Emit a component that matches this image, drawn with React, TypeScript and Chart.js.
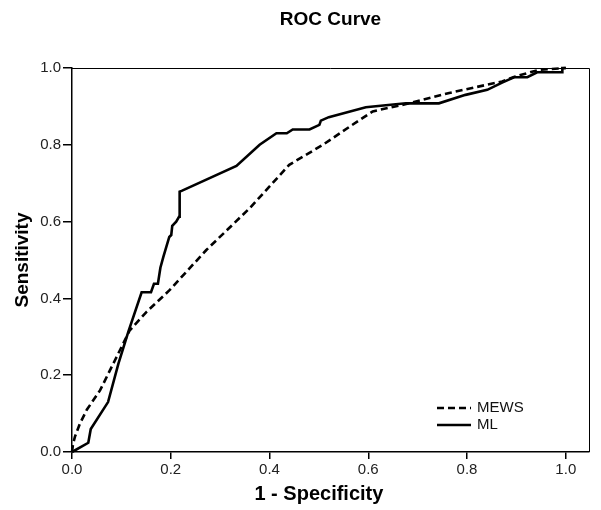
import React, { useEffect, useRef } from 'react';
import { Chart, registerables } from 'chart.js';

Chart.register(...registerables);

// ---- Data ----
const seriesLabels = ['MEWS', 'ML'];
const tickValues = [0, 0.2, 0.4, 0.6, 0.8, 1.0];

const mewsFpr = [0, 0.002, 0.006, 0.016, 0.03, 0.057, 0.087, 0.117, 0.151, 0.198, 0.272, 0.36, 0.44, 0.508, 0.562, 0.609, 0.683, 0.764, 0.871, 0.898, 0.945, 1.0];
const mewsTpr = [0, 0.02, 0.04, 0.074, 0.11, 0.161, 0.239, 0.317, 0.365, 0.422, 0.526, 0.635, 0.748, 0.8, 0.847, 0.887, 0.908, 0.935, 0.965, 0.978, 0.995, 1.0];

const mlFpr = [0, 0.033, 0.038, 0.073, 0.094, 0.114, 0.141, 0.16, 0.166, 0.174, 0.179, 0.185, 0.197, 0.201, 0.203, 0.211, 0.217, 0.218, 0.222, 0.333, 0.38, 0.414, 0.435, 0.447, 0.481, 0.501, 0.504, 0.52, 0.595, 0.676, 0.743, 0.797, 0.841, 0.871, 0.895, 0.922, 0.942, 0.993, 0.993, 1.0];
const mlTpr = [0, 0.024, 0.06, 0.13, 0.23, 0.313, 0.416, 0.416, 0.438, 0.438, 0.48, 0.508, 0.56, 0.565, 0.589, 0.6, 0.613, 0.678, 0.68, 0.745, 0.8, 0.83, 0.83, 0.84, 0.84, 0.852, 0.863, 0.872, 0.898, 0.908, 0.908, 0.93, 0.943, 0.962, 0.976, 0.976, 0.989, 0.989, 1.0, 1.0];

const FONT = '"Liberation Sans", Arial, Helvetica, sans-serif';

const dashStyles: Record<string, number[]> = { MEWS: [7, 4], ML: [] };

const framePlugin = {
  id: 'rocFrame',
  afterDraw(chart: any) {
    const { ctx, chartArea, scales } = chart;
    const { left, right, top, bottom } = chartArea;
    ctx.save();
    // top and right frame
    ctx.strokeStyle = '#000';
    ctx.lineWidth = 1;
    ctx.beginPath();
    ctx.moveTo(left, top + 0.5);
    ctx.lineTo(right + 0.5, top + 0.5);
    ctx.lineTo(right + 0.5, bottom);
    ctx.stroke();

    // main title
    ctx.fillStyle = '#000';
    ctx.textAlign = 'center';
    ctx.textBaseline = 'middle';
    ctx.font = 'bold 19px ' + FONT;
    ctx.fillText('ROC Curve', (left + right) / 2, 20);

    // x-axis title centred on data range
    ctx.font = 'bold 20px ' + FONT;
    ctx.fillText('1 - Specificity', scales.x.getPixelForValue(0.5), 494);

    // legend
    const rows = [
      { y: 408, ds: chart.data.datasets[0] },
      { y: 425, ds: chart.data.datasets[1] },
    ];
    ctx.textAlign = 'left';
    ctx.font = '15px ' + FONT;
    rows.forEach((r) => {
      ctx.beginPath();
      ctx.setLineDash(r.ds.borderDash || []);
      ctx.lineWidth = 2.5;
      ctx.strokeStyle = '#000';
      ctx.moveTo(437, r.y);
      ctx.lineTo(471, r.y);
      ctx.stroke();
      ctx.setLineDash([]);
      ctx.fillStyle = '#111';
      ctx.fillText(r.ds.label, 477, r.y);
    });
    ctx.restore();
  },
};

export default function App() {
  const ref = useRef<HTMLCanvasElement | null>(null);

  useEffect(() => {
    if (!ref.current) return;
    const mk = (xs: number[], ys: number[]) => xs.map((x, i) => ({ x, y: ys[i] }));
    const tickFont = { family: FONT, size: 15 };
    const chart = new Chart(ref.current, {
      type: 'scatter',
      data: {
        datasets: [
          {
            label: seriesLabels[0],
            data: mk(mewsFpr, mewsTpr),
            showLine: true,
            borderColor: '#000',
            borderWidth: 2.6,
            borderDash: dashStyles.MEWS,
            pointRadius: 0,
            fill: false,
            clip: false as any,
          },
          {
            label: seriesLabels[1],
            data: mk(mlFpr, mlTpr),
            showLine: true,
            borderColor: '#000',
            borderWidth: 2.6,
            pointRadius: 0,
            fill: false,
            clip: false as any,
          },
        ],
      },
      options: {
        animation: false,
        responsive: false,
        devicePixelRatio: 1,
        layout: { padding: { top: 68, right: 12, left: 0, bottom: 0 } },
        plugins: {
          legend: { display: false },
          tooltip: { enabled: false },
          title: { display: false },
        },
        scales: {
          x: {
            type: 'linear',
            min: 0,
            max: 1.047,
            afterBuildTicks: (s: any) => {
              s.ticks = tickValues.map((v) => ({ value: v }));
            },
            afterFit: (s: any) => {
              s.height = 58;
            },
            ticks: {
              callback: (v: any) => Number(v).toFixed(1),
              font: tickFont,
              color: '#222',
              padding: 2,
              maxRotation: 0,
            },
            grid: {
              display: true,
              drawOnChartArea: false,
              drawTicks: true,
              tickLength: 7,
              color: '#000',
              lineWidth: 1.5,
            },
            border: { display: true, color: '#000', width: 1.5 },
          },
          y: {
            type: 'linear',
            min: 0,
            max: 1,
            afterBuildTicks: (s: any) => {
              s.ticks = tickValues.map((v) => ({ value: v }));
            },
            afterFit: (s: any) => {
              s.width = 72;
            },
            ticks: {
              callback: (v: any) => Number(v).toFixed(1),
              font: tickFont,
              color: '#222',
              padding: 2,
            },
            grid: {
              display: true,
              drawOnChartArea: false,
              drawTicks: true,
              tickLength: 9,
              color: '#000',
              lineWidth: 1.5,
            },
            border: { display: true, color: '#000', width: 1.5 },
            title: {
              display: true,
              text: 'Sensitivity',
              font: { family: FONT, size: 19, weight: 'bold' },
              color: '#000',
              padding: { top: 11, bottom: 0 },
            },
          },
        },
      },
      plugins: [framePlugin],
    });
    return () => chart.destroy();
  }, []);

  return (
    <div style={{ position: 'absolute', left: 0, top: 0, width: 601, height: 510, background: '#fff' }}>
      <canvas ref={ref} width={601} height={510} style={{ display: 'block' }} />
    </div>
  );
}
